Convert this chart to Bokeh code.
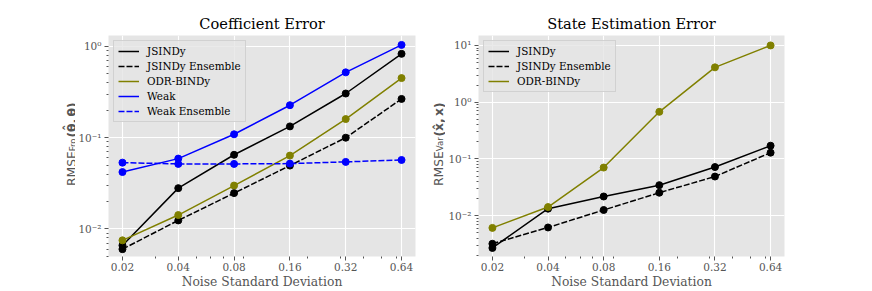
import math
from bokeh.plotting import figure
from bokeh.layouts import row
from bokeh.models import Range1d, FixedTicker, Legend, LegendItem, Label
from bokeh.embed import file_html
from bokeh.resources import INLINE

# ---------------- data ----------------
noise = [0.02, 0.04, 0.08, 0.16, 0.32, 0.64]
x_tick_labels = ["0.02", "0.04", "0.08", "0.16", "0.32", "0.64"]
x_minor_ticks = [0.03, 0.05, 0.06, 0.07, 0.09, 0.2, 0.3, 0.4, 0.5, 0.6]

coef_jsindy = [0.0066, 0.028, 0.065, 0.133, 0.305, 0.83]
coef_jsindy_ens = [0.0060, 0.0124, 0.0247, 0.0495, 0.100, 0.266]
coef_odr = [0.0075, 0.0142, 0.0299, 0.0637, 0.160, 0.45]
coef_weak = [0.042, 0.059, 0.109, 0.227, 0.52, 1.04]
coef_weak_ens = [0.0533, 0.0516, 0.0516, 0.0520, 0.0543, 0.057]

state_jsindy = [0.0027, 0.0133, 0.0218, 0.0345, 0.072, 0.171]
state_jsindy_ens = [0.0032, 0.0062, 0.0126, 0.0254, 0.049, 0.129]
state_odr = [0.0061, 0.0142, 0.0705, 0.676, 4.11, 10.0]

coef_y_ticks = [0.01, 0.1, 1.0]
coef_y_tick_labels = ["10⁻²", "10⁻¹", "10⁰"]
state_y_ticks = [0.01, 0.1, 1.0, 10.0]
state_y_tick_labels = ["10⁻²", "10⁻¹", "10⁰", "10¹"]
y_minor_ticks = [m * 10.0 ** e for e in range(-3, 2) for m in range(2, 10)]

x_label = "Noise Standard Deviation"
coef_title = "Coefficient Error"
state_title = "State Estimation Error"
coef_ylabel = ("RMSE", "Fro", "(θ̂,\u2009θ)")
state_ylabel = ("RMSE", "Var", "(x̂,\u2009x)")

BLACK = "#000000"
OLIVE = "#808000"
BLUE = "#0000FF"
GRAY = "#555555"
SERIF = "DejaVu Serif"
SANS = "DejaVu Sans"
DASH = "6 2"

FIG_H = 291
B_TOP = 35
B_BOT = 34
FRAME_BOTTOM = FIG_H - B_BOT


def make_fig(title, width, b_left, b_right, y_lo, y_hi, y_ticks, y_labels):
    p = figure(width=width, height=FIG_H, x_axis_type="log", y_axis_type="log",
               x_range=Range1d(noise[0] * 2 ** -0.25, noise[-1] * 2 ** 0.25),
               y_range=Range1d(y_lo, y_hi),
               output_backend="svg", toolbar_location=None, title=title,
               min_border_left=b_left, min_border_right=b_right,
               min_border_top=B_TOP, min_border_bottom=B_BOT)
    p.title.text_font = SERIF
    p.title.text_font_size = "14.6px"
    p.title.text_font_style = "normal"
    p.title.text_color = "#000000"
    p.title.align = "center"
    p.title.standoff = 7

    xt = FixedTicker(ticks=noise, minor_ticks=x_minor_ticks)
    yt = FixedTicker(ticks=y_ticks, minor_ticks=y_minor_ticks)
    p.xaxis.ticker = xt
    p.yaxis.ticker = yt
    p.xgrid.ticker = xt
    p.ygrid.ticker = yt
    p.xaxis.major_label_overrides = dict(zip(noise, x_tick_labels))
    p.yaxis.major_label_overrides = dict(zip(y_ticks, y_labels))

    p.axis.axis_line_color = None
    p.axis.major_tick_line_color = GRAY
    p.axis.major_tick_out = 4
    p.axis.major_tick_in = 0
    p.axis.minor_tick_line_color = GRAY
    p.axis.minor_tick_out = 2
    p.axis.minor_tick_in = 0
    p.axis.major_label_text_font = SERIF
    p.axis.major_label_text_font_size = "10.5px"
    p.axis.major_label_text_color = GRAY
    p.xaxis.major_label_standoff = 2
    p.yaxis.major_label_standoff = 3

    p.xaxis.axis_label = x_label
    p.xaxis.axis_label_text_font = SERIF
    p.xaxis.axis_label_text_font_size = "12.3px"
    p.xaxis.axis_label_text_font_style = "normal"
    p.xaxis.axis_label_text_color = GRAY
    p.xaxis.axis_label_standoff = 1

    p.grid.grid_line_color = "white"
    p.grid.grid_line_width = 1.1
    p.background_fill_color = "#E5E5E5"
    p.border_fill_color = "white"
    p.outline_line_color = None
    return p


def add_series(p, items, name, vals, color, dash):
    r = p.line(noise, vals, line_color=color, line_width=1.5, line_dash=dash)
    p.scatter(noise, vals, size=7, fill_color=color, line_color=color)
    items.append(LegendItem(label=name, renderers=[r]))


def add_legend(p, items):
    leg = Legend(items=items, location="top_left", margin=5, padding=4,
                 spacing=3, glyph_width=21, glyph_height=12, label_height=12,
                 label_standoff=8, label_text_font=SERIF,
                 label_text_font_size="10.4px", label_text_color="#000000",
                 background_fill_color="#E5E5E5", background_fill_alpha=0.8,
                 border_line_color="#CCCCCC", border_line_alpha=0.8,
                 border_line_width=1)
    p.add_layout(leg)


def label_strip(width, base_x, start_y, parts, sub_len):
    # a blank strip (frame aligned with the plots' frames) holding the rotated y label
    s = figure(width=width, height=FIG_H, x_range=Range1d(0, 1),
               y_range=Range1d(0, 1), output_backend="svg",
               toolbar_location=None, x_axis_location=None, y_axis_location=None,
               min_border_left=0, min_border_right=0,
               min_border_top=B_TOP, min_border_bottom=B_BOT)
    s.grid.visible = False
    s.outline_line_color = None
    s.background_fill_color = "white"
    s.border_fill_color = "white"
    main, sub, arg = parts
    main_len = 34.7
    pieces = [(main, 12.3, "normal", base_x, main_len),
              (sub, 8.6, "normal", base_x + 1.5, sub_len),
              (arg, 12.3, "bold", base_x, 0.0)]
    off = 0.0
    for txt, fs, st, bx, ln in pieces:
        s.add_layout(Label(x=bx, y=FRAME_BOTTOM - (start_y - off),
                           x_units="screen", y_units="screen",
                           text=txt, text_font=SANS, text_font_size=f"{fs}px",
                           text_font_style=st, text_color=GRAY,
                           angle=math.pi / 2, text_align="left",
                           text_baseline="alphabetic"))
        off += ln
    return s


# ---------------- left: coefficient error ----------------
lab1 = label_strip(75, 71, 186.5, coef_ylabel, 13.7)
p1 = make_fig(coef_title, 345, 33, 5, 10 ** -2.302, 10 ** 0.12,
              coef_y_ticks, coef_y_tick_labels)
items1 = []
add_series(p1, items1, "JSINDy", coef_jsindy, BLACK, "solid")
add_series(p1, items1, "JSINDy Ensemble", coef_jsindy_ens, BLACK, DASH)
add_series(p1, items1, "ODR-BINDy", coef_odr, OLIVE, "solid")
add_series(p1, items1, "Weak", coef_weak, BLUE, "solid")
add_series(p1, items1, "Weak Ensemble", coef_weak_ens, BLUE, DASH)
add_legend(p1, items1)

# ---------------- right: state estimation error ----------------
lab2 = label_strip(25, 18, 186.5, state_ylabel, 14.7)
p2 = make_fig(state_title, 425, 33, 86, 10 ** -2.719, 10 ** 1.175,
              state_y_ticks, state_y_tick_labels)
items2 = []
add_series(p2, items2, "JSINDy", state_jsindy, BLACK, "solid")
add_series(p2, items2, "JSINDy Ensemble", state_jsindy_ens, BLACK, DASH)
add_series(p2, items2, "ODR-BINDy", state_odr, OLIVE, "solid")
add_legend(p2, items2)

layout = row(lab1, p1, lab2, p2)
open("out.html", "w").write(file_html(layout, INLINE))
